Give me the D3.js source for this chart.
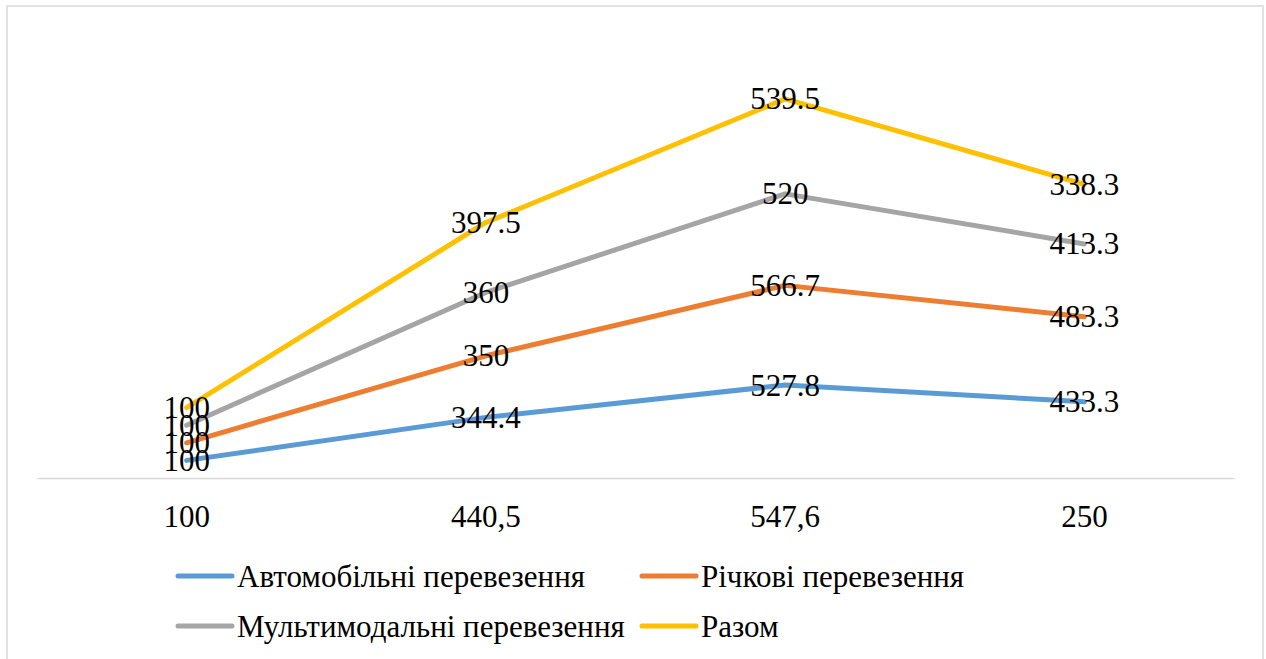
<!DOCTYPE html>
<html>
<head>
<script src="https://cdn.jsdelivr.net/npm/d3@7"></script>
<style>
  svg text { font-family: 'Times New Roman', 'Liberation Serif', Tinos, serif !important; }
</style>
</head>
<body style="margin:0">
<svg id="chart" width="1266" height="659"></svg>
<script>
// ---- data ----
const categories = ["100", "440,5", "547,6", "250"];
const seriesNames = ["Автомобільні перевезення", "Річкові перевезення", "Мультимодальні перевезення", "Разом"];
const autoValues = [100, 344.4, 527.8, 433.3];
const riverValues = [100, 350, 566.7, 483.3];
const multiValues = [100, 360, 520, 413.3];
const totalValues = [100, 397.5, 539.5, 338.3];
const colors = ["#5B9BD5", "#ED7D31", "#A5A5A5", "#FFC000"];

const FS = 31;

// ---- table for stacking ----
const keys = ["auto", "river", "multi", "total"];
const table = categories.map((c, i) => ({
  cat: c,
  auto: autoValues[i],
  river: riverValues[i],
  multi: multiValues[i],
  total: totalValues[i]
}));
const stacked = d3.stack().keys(keys)(table);

const svg = d3.select("#chart");
function serif(sel) {
  return sel.style("font-family", "'Times New Roman'")
    .attr("font-size", FS);
}

// chart border
svg.append("rect")
  .attr("x", 7).attr("y", 6)
  .attr("width", 1256).attr("height", 670)
  .attr("fill", "#fff")
  .attr("stroke", "#d9d9d9").attr("stroke-width", 1.5);

const x = d3.scaleBand().domain(categories).range([37, 1234]);
const y = d3.scaleLinear().domain([0, 2500]).range([478, 38]);
const cx = c => x(c) + x.bandwidth() / 2;

// x axis line from d3 axis; category labels as texts placed by the scale
const xAxis = d3.axisBottom(x).tickSize(0).tickFormat(() => "");
const gx = svg.append("g").attr("transform", "translate(0,478)").call(xAxis);
gx.attr("font-family", null).attr("font-size", null);
gx.select(".domain").attr("stroke", "#d9d9d9").attr("stroke-width", 1.5);
gx.selectAll(".tick text").remove();
categories.forEach(c => {
  serif(svg.append("text"))
    .attr("x", cx(c)).attr("y", 527)
    .attr("text-anchor", "middle")
    .text(c);
});

// lines
const line = d3.line().x(d => cx(d.data.cat)).y(d => y(d[1]));
stacked.forEach((s, i) => {
  svg.append("path")
    .datum(s)
    .attr("d", line)
    .attr("fill", "none")
    .attr("stroke", colors[i])
    .attr("stroke-width", 5)
    .attr("stroke-linecap", "round")
    .attr("stroke-linejoin", "round");
});

// data labels (centered on points)
stacked.forEach((s, i) => {
  s.forEach(d => {
    serif(svg.append("text"))
      .attr("x", cx(d.data.cat))
      .attr("y", y(d[1]) + 10.5)
      .attr("text-anchor", "middle")
      .text(String(d.data[keys[i]]));
  });
});

// legend
const legendItems = [
  { x: 178, y: 576, i: 0 },
  { x: 642, y: 576, i: 1 },
  { x: 178, y: 626, i: 2 },
  { x: 642, y: 626, i: 3 }
];
legendItems.forEach(it => {
  svg.append("line")
    .attr("x1", it.x).attr("x2", it.x + 54)
    .attr("y1", it.y).attr("y2", it.y)
    .attr("stroke", colors[it.i]).attr("stroke-width", 5)
    .attr("stroke-linecap", "round");
  serif(svg.append("text"))
    .attr("x", it.x + 59).attr("y", it.y + 11)
    .text(seriesNames[it.i]);
});
</script>
</body>
</html>
